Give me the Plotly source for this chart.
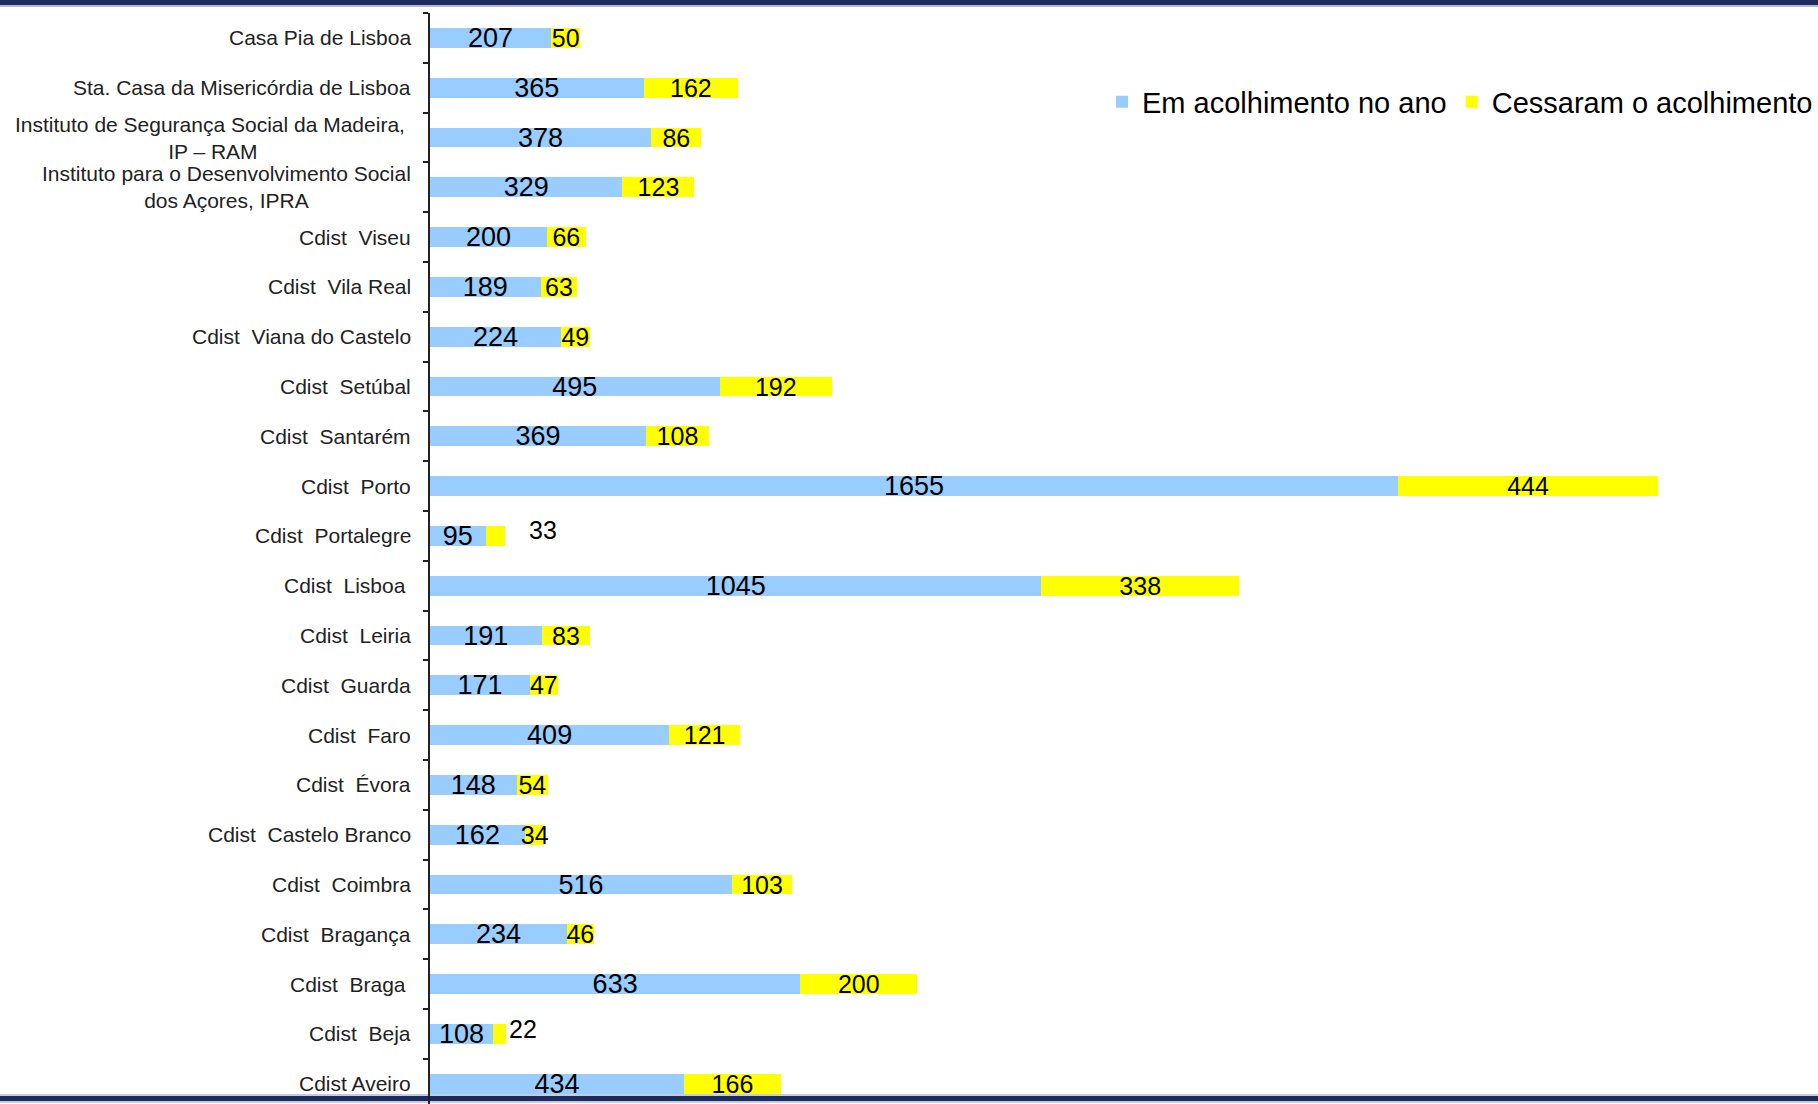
import plotly.graph_objects as go

# Acolhimento por entidade: crianças em acolhimento no ano e que cessaram o acolhimento
categories = [
    "Casa Pia de Lisboa",
    "Sta. Casa da Misericórdia de Lisboa",
    "Instituto de Segurança Social da Madeira,\u00a0<br>IP – RAM",
    "Instituto para o Desenvolvimento Social<br>dos Açores, IPRA",
    "Cdist\u00a0 Viseu",
    "Cdist\u00a0 Vila Real",
    "Cdist\u00a0 Viana do Castelo",
    "Cdist\u00a0 Setúbal",
    "Cdist\u00a0 Santarém",
    "Cdist\u00a0 Porto",
    "Cdist\u00a0 Portalegre",
    "Cdist\u00a0 Lisboa\u00a0",
    "Cdist\u00a0 Leiria",
    "Cdist\u00a0 Guarda",
    "Cdist\u00a0 Faro",
    "Cdist\u00a0 Évora",
    "Cdist\u00a0 Castelo Branco",
    "Cdist\u00a0 Coimbra",
    "Cdist\u00a0 Bragança",
    "Cdist\u00a0 Braga\u00a0",
    "Cdist\u00a0 Beja",
    "Cdist Aveiro",
]
em_acolhimento = [207, 365, 378, 329, 200, 189, 224, 495, 369, 1655, 95,
                  1045, 191, 171, 409, 148, 162, 516, 234, 633, 108, 434]
cessaram = [50, 162, 86, 123, 66, 63, 49, 192, 108, 444, 33,
            338, 83, 47, 121, 54, 34, 103, 46, 200, 22, 166]
series_names = ["Em acolhimento no ano", "Cessaram o acolhimento"]
# entidades cujo rótulo de "cessaram" fica fora da barra
outside_labels = ["Cdist\u00a0 Portalegre", "Cdist\u00a0 Beja"]

W, H = 1818, 1104
ML, MT, MR, MB = 430, 13, 0, 0
PLOT_H = H - MT - MB
ROW_PX = 49.8
FONT = "Arial, 'Liberation Sans', sans-serif"
NAVY = "#1c2a5c"
BLUE = "#99ccff"
YELLOW = "#ffff00"


def py(pixel_y):
    """Convert a pixel row to paper y."""
    return 1 - (pixel_y - MT) / PLOT_H


fig = go.Figure()

fig.add_trace(go.Bar(
    y=categories, x=em_acolhimento, orientation="h", name=series_names[0],
    marker=dict(color=BLUE, line=dict(width=0)), width=0.4,
    text=[str(v) for v in em_acolhimento], textposition="inside",
    insidetextanchor="middle", textangle=0, constraintext="none",
    textfont=dict(family=FONT, size=27, color="#000000"),
    hoverinfo="x+y",
))

yellow_text = ["" if c in outside_labels else str(v) for c, v in zip(categories, cessaram)]
fig.add_trace(go.Bar(
    y=categories, x=cessaram, orientation="h", name=series_names[1],
    marker=dict(color=YELLOW, line=dict(width=0)), width=0.4,
    text=yellow_text, textposition="inside",
    insidetextanchor="middle", textangle=0, constraintext="none",
    textfont=dict(family=FONT, size=25, color="#000000"),
    hoverinfo="x+y",
))

annotations = []
# category labels, centred line by line
for c in categories:
    annotations.append(dict(
        x=0, xref="paper", y=c, yref="y", text=c, showarrow=False,
        xanchor="right", yanchor="middle", align="center", xshift=-17,
        font=dict(family=FONT, size=21, color="#222222"),
    ))
# labels placed beside the short bars
offsets = {"Cdist\u00a0 Portalegre": (22, 6), "Cdist\u00a0 Beja": (1, 5)}
for c, a, b in zip(categories, em_acolhimento, cessaram):
    if c in outside_labels:
        dx, dy = offsets[c]
        annotations.append(dict(
            x=a + b, xref="x", y=c, yref="y", text=str(b), showarrow=False,
            xanchor="left", yanchor="middle", xshift=dx, yshift=dy,
            font=dict(family=FONT, size=25, color="#000000"),
        ))

plot_w = W - ML - MR
x_max = plot_w / 0.585
y_bottom = -0.5 + PLOT_H / ROW_PX

shapes = [
    dict(type="rect", xref="paper", yref="paper", x0=-1, x1=2,
         y0=py(5), y1=py(0), fillcolor=NAVY, line=dict(width=0), layer="below"),
    dict(type="rect", xref="paper", yref="paper", x0=-1, x1=2,
         y0=py(7), y1=py(5), fillcolor="#aeb8d2", line=dict(width=0), layer="below"),
    dict(type="rect", xref="paper", yref="paper", x0=-1, x1=2,
         y0=py(1096), y1=py(1094), fillcolor="#c4cce0", line=dict(width=0), layer="below"),
    dict(type="rect", xref="paper", yref="paper", x0=-1, x1=2,
         y0=py(1101), y1=py(1096), fillcolor=NAVY, line=dict(width=0), layer="below"),
    dict(type="rect", xref="paper", yref="paper", x0=-1, x1=2,
         y0=py(1103), y1=py(1101), fillcolor="#c4cce0", line=dict(width=0), layer="below"),
]

fig.update_layout(
    width=W, height=H,
    margin=dict(l=ML, r=MR, t=MT, b=MB, pad=0, autoexpand=False),
    barmode="stack", bargap=0.6,
    paper_bgcolor="#ffffff", plot_bgcolor="#ffffff",
    font=dict(family=FONT, color="#000000"),
    showlegend=True,
    legend=dict(
        orientation="h", xref="paper", yref="paper",
        x=1.0, xanchor="right", y=py(102), yanchor="middle",
        font=dict(family=FONT, size=29, color="#000000"),
        bgcolor="rgba(0,0,0,0)", traceorder="normal",
    ),
    xaxis=dict(range=[0, x_max], visible=False, showgrid=False, zeroline=False),
    yaxis=dict(
        type="category", categoryorder="array", categoryarray=categories,
        range=[y_bottom, -0.5], showticklabels=False, showgrid=False,
        zeroline=False, showline=True, linecolor="#222222", linewidth=1.5,
        ticks="outside", tickson="boundaries", ticklen=5, tickcolor="#222222",
        tickwidth=1.5,
    ),
    annotations=annotations,
    shapes=shapes,
)

fig.write_html("out.html")
